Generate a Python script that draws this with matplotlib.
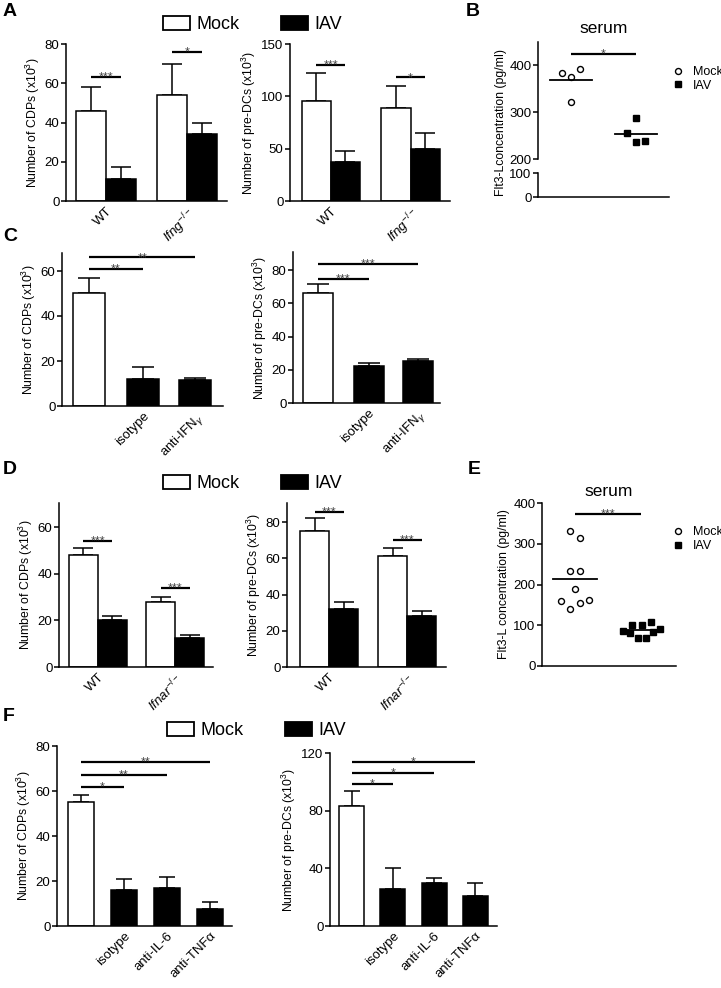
import numpy as np
import matplotlib
matplotlib.use('Agg')
import matplotlib.pyplot as plt
from matplotlib.patches import Patch
from matplotlib.lines import Line2D

plt.rcParams['font.family'] = ['Liberation Sans', 'DejaVu Sans']
plt.rcParams['mathtext.fontset'] = 'custom'
plt.rcParams['mathtext.rm'] = 'Liberation Sans'
plt.rcParams['mathtext.it'] = 'Liberation Sans:italic'
plt.rcParams['mathtext.bf'] = 'Liberation Sans:bold'
plt.rcParams['axes.linewidth'] = 1.1

# ---------------------------
# DATA
# ---------------------------
# A: WT vs Ifng-/-
a_groups = ['WT', r'$\it{Ifng}^{-/-}$']
a_cdp_mock = [46, 54]
a_cdp_mock_err = [12, 16]
a_cdp_iav = [11, 34]
a_cdp_iav_err = [6.5, 6]
a_pdc_mock = [96, 88.5]
a_pdc_mock_err = [26, 21.5]
a_pdc_iav = [37, 49.5]
a_pdc_iav_err = [11, 15.5]

# B: serum Flt3-L
b_mock = [383, 375, 393, 322]
b_iav = [256, 287, 236, 238]
b_mock_dx = [-0.14, 0, 0.14, 0]
b_iav_dx = [-0.14, 0, 0, 0.14]

# C: antibody blocking IFNg
c_labels = ['', 'isotype', r'anti-IFN$_\gamma$']
c_colors = ['white', 'black', 'black']
c_cdp = [50, 12, 11.5]
c_cdp_err = [7, 5.3, 0.9]
c_pdc = [66, 22.3, 25.3]
c_pdc_err = [5.5, 1.7, 1.2]

# D: WT vs Ifnar-/-
d_groups = ['WT', r'$\it{Ifnar}^{-/-}$']
d_cdp_mock = [48, 28]
d_cdp_mock_err = [3, 2.3]
d_cdp_iav = [20, 12.6]
d_cdp_iav_err = [2, 1.2]
d_pdc_mock = [75, 61]
d_pdc_mock_err = [7, 4.5]
d_pdc_iav = [32, 28]
d_pdc_iav_err = [4, 3]

# E: serum Flt3-L
e_mock = [331, 315, 233, 233, 188, 159, 141, 154, 162]
e_iav = [87, 80, 101, 101, 107, 69, 69, 83, 90]
e_mock_dx = [-0.07, 0.07, -0.07, 0.07, 0, -0.21, -0.07, 0.07, 0.21]
e_iav_dx = [-0.27, -0.16, -0.13, 0.01, 0.15, -0.05, 0.07, 0.18, 0.29]

# F: antibody blocking IL-6 / TNFa
f_labels = ['', 'isotype', 'anti-IL-6', 'anti-TNFα']
f_colors = ['white', 'black', 'black', 'black']
f_cdp = [55, 16, 17, 7.5]
f_cdp_err = [3.3, 5, 4.7, 3.2]
f_pdc = [83, 25.6, 30, 21]
f_pdc_err = [10.5, 14.4, 3.3, 9]

W, H = 721, 988
fig = plt.figure(figsize=(W / 100, H / 100), dpi=100)

TICK_FS = 9.5
LAB_FS = 8.8


def px_axes(x0, y0, x1, y1):
    return fig.add_axes([x0 / W, 1 - y1 / H, (x1 - x0) / W, (y1 - y0) / H])


def style(ax, yticks, ylim, xlim):
    ax.spines['top'].set_visible(False)
    ax.spines['right'].set_visible(False)
    ax.set_ylim(ylim)
    ax.set_xlim(xlim)
    ax.set_yticks(yticks)
    ax.tick_params(axis='y', direction='out', length=3.5, width=1.1, labelsize=TICK_FS, pad=1.2)
    ax.tick_params(axis='x', length=0, labelsize=TICK_FS, pad=3)


def bars(ax, pos, vals, errs, colors, capsize):
    ax.bar(pos, vals, width=1.0, color=colors, edgecolor='black', linewidth=1.1, zorder=2)
    ax.errorbar(pos, vals, yerr=[np.zeros(len(vals)), errs], fmt='none', ecolor='black',
                elinewidth=1.1, capsize=capsize, capthick=1.1, zorder=1)


def sig(ax, x0, x1, y, txt):
    ax.plot([x0, x1], [y, y], color='black', lw=1.6, clip_on=False, solid_capstyle='butt')
    ax.annotate(txt, ((x0 + x1) / 2, y), xytext=(0, -2.5), textcoords='offset points',
                ha='center', va='baseline', fontsize=9, color='#444444')


def xlabels(ax, ticks, labels):
    ax.set_xticks(ticks)
    ax.set_xticklabels(labels, rotation=45, ha='right', rotation_mode='anchor')


def ylab(ax, s):
    ax.set_ylabel(s, fontsize=LAB_FS, labelpad=2)


def mock_iav_legend(x_px, y_px):
    handles = [Patch(facecolor='white', edgecolor='black', linewidth=1.3),
               Patch(facecolor='black', edgecolor='black', linewidth=1.3)]
    fig.legend(handles, ['Mock', 'IAV'], loc='upper left',
               bbox_to_anchor=(x_px / W, 1 - y_px / H), ncol=2, frameon=False,
               fontsize=13, handlelength=1.5, handleheight=0.8, handletextpad=0.35,
               columnspacing=2.3, borderpad=0, borderaxespad=0)


def scatter_legend(ax, x_px, y_px):
    handles = [Line2D([], [], ls='none', marker='o', mfc='white', mec='black', ms=4.3, mew=1),
               Line2D([], [], ls='none', marker='s', mfc='black', mec='black', ms=4.2)]
    ax.legend(handles, ['Mock', 'IAV'], loc='upper left', bbox_to_anchor=(x_px / W, 1 - y_px / H),
              bbox_transform=fig.transFigure, frameon=False, fontsize=9, handlelength=0.8,
              handletextpad=0.8, labelspacing=0.15, borderpad=0, borderaxespad=0)


def letter(x_px, y_px, s):
    fig.text(x_px / W, 1 - y_px / H, s, fontsize=14, fontweight='bold', va='top', ha='left')


# ---------------------------
# Panel A
# ---------------------------
pm = np.array([0, 2.7])
pi = pm + 1
ax = px_axes(66, 44, 227, 201)
bars(ax, pm, a_cdp_mock, a_cdp_mock_err, 'white', 7)
bars(ax, pi, a_cdp_iav, a_cdp_iav_err, 'black', 7)
style(ax, [0, 20, 40, 60, 80], (0, 80), (-0.83, 4.53))
xlabels(ax, pm + 0.5, a_groups)
ylab(ax, 'Number of CDPs (x10$^3$)')
sig(ax, pm[0], pi[0], 63, '***')
sig(ax, pm[1], pi[1], 76, '*')

pm = np.array([0, 2.74])
pi = pm + 1
ax = px_axes(290, 44, 450, 201)
bars(ax, pm, a_pdc_mock, a_pdc_mock_err, 'white', 7)
bars(ax, pi, a_pdc_iav, a_pdc_iav_err, 'black', 7)
style(ax, [0, 50, 100, 150], (0, 150), (-0.91, 4.6))
xlabels(ax, pm + 0.5, a_groups)
ylab(ax, 'Number of pre-DCs (x10$^3$)')
sig(ax, pm[0], pi[0], 130, '***')
sig(ax, pm[1], pi[1], 118, '*')

mock_iav_legend(163, 16)

# ---------------------------
# Panel B (broken y axis)
# ---------------------------
axu = px_axes(538, 42, 669, 159)
axl = px_axes(538, 173, 669, 197)
for a in (axu, axl):
    a.spines['top'].set_visible(False)
    a.spines['right'].set_visible(False)
    a.set_xlim(-0.51, 1.51)
    a.set_xticks([])
    a.tick_params(axis='y', direction='out', length=3.5, width=1.1, labelsize=TICK_FS, pad=1.2)
axu.spines['bottom'].set_visible(False)
axu.set_ylim(200, 450)
axu.set_yticks([200, 300, 400])
axl.set_ylim(0, 100)
axl.set_yticks([0, 100])
axu.plot(np.array(b_mock_dx), b_mock, ls='none', marker='o', mfc='white', mec='black', ms=4.3, mew=1)
axu.plot(1 + np.array(b_iav_dx), b_iav, ls='none', marker='s', mfc='black', mec='black', ms=4.2)
axu.plot([-0.33, 0.33], [np.mean(b_mock)] * 2, color='black', lw=1.3)
axu.plot([1 - 0.33, 1 + 0.33], [np.mean(b_iav)] * 2, color='black', lw=1.3)
sig(axu, 0, 1, 425, '*')
axu.set_title('serum', fontsize=12.5, pad=6.5)
fig.text(501 / W, 1 - 123 / H, 'Flt3-Lconcentration (pg/ml)', rotation=90,
         ha='center', va='center', fontsize=LAB_FS)
scatter_legend(axu, 673, 66)

# ---------------------------
# Panel C
# ---------------------------
pc = np.array([0, 1.69, 3.33])
ax = px_axes(62, 253, 223, 406)
bars(ax, pc, c_cdp, c_cdp_err, c_colors, 8)
style(ax, [0, 20, 40, 60], (0, 68), (-0.84, 4.19))
xlabels(ax, pc, c_labels)
ylab(ax, 'Number of CDPs (x10$^3$)')
sig(ax, pc[0], pc[1], 61, '**')
sig(ax, pc[0], pc[2], 66, '**')

ax = px_axes(293, 252, 440, 403)
bars(ax, pc, c_pdc, c_pdc_err, c_colors, 8)
style(ax, [0, 20, 40, 60, 80], (0, 91), (-0.83, 4.07))
xlabels(ax, pc, c_labels)
ylab(ax, 'Number of pre-DCs (x10$^3$)')
sig(ax, pc[0], pc[1], 75, '***')
sig(ax, pc[0], pc[2], 84, '***')

# ---------------------------
# Panel D
# ---------------------------
pm = np.array([0, 2.66])
pi = pm + 1
ax = px_axes(59, 503, 213, 667)
bars(ax, pm, d_cdp_mock, d_cdp_mock_err, 'white', 7)
bars(ax, pi, d_cdp_iav, d_cdp_iav_err, 'black', 7)
style(ax, [0, 20, 40, 60], (0, 70.5), (-0.84, 4.47))
xlabels(ax, pm + 0.5, d_groups)
ylab(ax, 'Number of CDPs (x10$^3$)')
sig(ax, pm[0], pi[0], 54, '***')
sig(ax, pm[1], pi[1], 34, '***')

pm = np.array([0, 2.69])
pi = pm + 1
ax = px_axes(287, 503, 446, 667)
bars(ax, pm, d_pdc_mock, d_pdc_mock_err, 'white', 7)
bars(ax, pi, d_pdc_iav, d_pdc_iav_err, 'black', 7)
style(ax, [0, 20, 40, 60, 80], (0, 90.5), (-0.95, 4.53))
xlabels(ax, pm + 0.5, d_groups)
ylab(ax, 'Number of pre-DCs (x10$^3$)')
sig(ax, pm[0], pi[0], 85.5, '***')
sig(ax, pm[1], pi[1], 70, '***')

mock_iav_legend(163, 475)

# ---------------------------
# Panel E
# ---------------------------
ax = px_axes(542, 503, 676, 666)
style(ax, [0, 100, 200, 300, 400], (0, 400), (-0.5, 1.53))
ax.set_xticks([])
ax.plot(np.array(e_mock_dx), e_mock, ls='none', marker='o', mfc='white', mec='black', ms=4.3, mew=1)
ax.plot(1 + np.array(e_iav_dx), e_iav, ls='none', marker='s', mfc='black', mec='black', ms=4.2)
ax.plot([-0.33, 0.33], [np.mean(e_mock)] * 2, color='black', lw=1.3)
ax.plot([1 - 0.3, 1 + 0.3], [np.mean(e_iav)] * 2, color='black', lw=1.3)
sig(ax, 0, 1, 372, '***')
ax.set_title('serum', fontsize=12.5, pad=5)
ylab(ax, 'Flt3-L concentration (pg/ml)')
scatter_legend(ax, 673, 526)

# ---------------------------
# Panel F
# ---------------------------
pf = np.array([0, 1.65, 3.3, 4.95])
ax = px_axes(57, 746, 232, 926)
bars(ax, pf, f_cdp, f_cdp_err, f_colors, 5.5)
style(ax, [0, 20, 40, 60, 80], (0, 80), (-0.92, 5.8))
xlabels(ax, pf, f_labels)
ylab(ax, 'Number of CDPs (x10$^3$)')
sig(ax, pf[0], pf[1], 62, '*')
sig(ax, pf[0], pf[2], 67, '**')
sig(ax, pf[0], pf[3], 73, '**')

ax = px_axes(330, 753, 497, 926)
bars(ax, pf, f_pdc, f_pdc_err, f_colors, 5.5)
style(ax, [0, 40, 80, 120], (0, 120), (-0.86, 5.82))
xlabels(ax, pf, f_labels)
ylab(ax, 'Number of pre-DCs (x10$^3$)')
sig(ax, pf[0], pf[1], 98.5, '*')
sig(ax, pf[0], pf[2], 106, '*')
sig(ax, pf[0], pf[3], 114, '*')

mock_iav_legend(167, 722)

# panel letters
letter(3, 3, 'A')
letter(466, 3, 'B')
letter(3, 228, 'C')
letter(3, 461, 'D')
letter(468, 461, 'E')
letter(3, 708, 'F')

fig.savefig('out.png', dpi=100)
